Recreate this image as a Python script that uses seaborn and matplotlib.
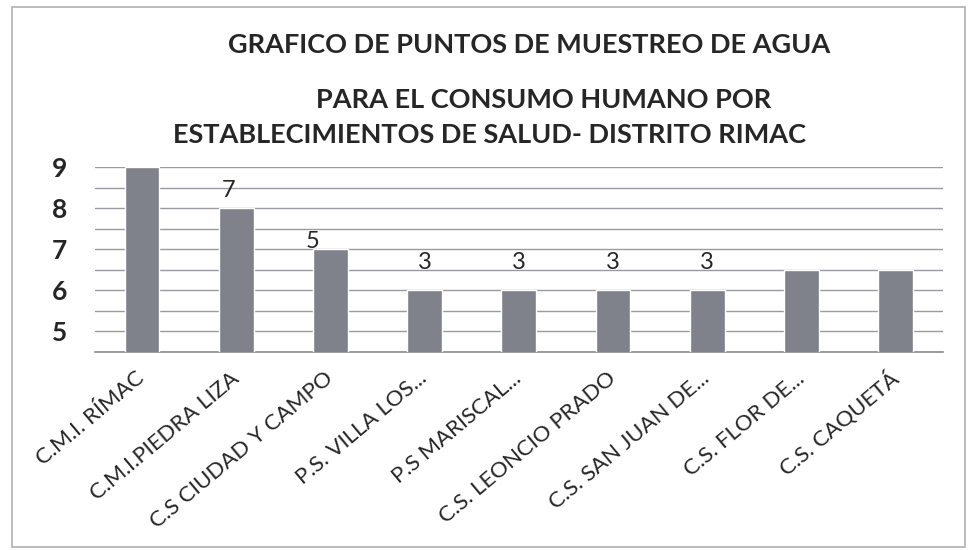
import pandas as pd
import seaborn as sns
import matplotlib.pyplot as plt
from matplotlib.patches import Rectangle
from matplotlib.ticker import MultipleLocator, FixedLocator

# --- data ---
centros = ['C.M.I. RÍMAC', 'C.M.I.PIEDRA LIZA', 'C.S CIUDAD Y CAMPO', 'P.S. VILLA LOS...',
           'P.S MARISCAL...', 'C.S. LEONCIO PRADO', 'C.S. SAN JUAN DE...', 'C.S. FLOR DE...',
           'C.S. CAQUETÁ']
valores = [9, 8, 7, 6, 6, 6, 6, 6.5, 6.5]
etiquetas = ['', '7', '5', '3', '3', '3', '3', '', '']
yticks = [5, 6, 7, 8, 9]

df = pd.DataFrame({'centro': centros, 'valor': valores})

sns.set_style('white')
plt.rcParams['font.family'] = ['Lato', 'DejaVu Sans']

fig = plt.figure(figsize=(9.68, 5.5), dpi=100)
ax = fig.add_axes([0.098, 0.36, 0.876, 0.336])

sns.barplot(data=df, x='centro', y='valor', color='#7f818b', saturation=1,
            width=0.37, ax=ax, zorder=3)

ax.set_ylim(4.5, 9)
ax.yaxis.set_major_locator(FixedLocator(yticks))
ax.yaxis.set_minor_locator(MultipleLocator(0.5))
ax.grid(which='both', axis='y', color='#9a9aa0', lw=1, zorder=0)
ax.set_axisbelow(True)
ax.set_xlim(-0.5, len(centros) - 0.5)
ax.set_xlabel('')
ax.set_ylabel('')

for s in ['left', 'right', 'top']:
    ax.spines[s].set_visible(False)
ax.spines['bottom'].set_color('#8a8a90')
ax.spines['bottom'].set_linewidth(1.2)

ax.tick_params(axis='y', which='both', length=0, pad=20, labelsize=19)
for t in ax.get_yticklabels():
    t.set_fontweight('bold')

# tick marks between categories
ax.xaxis.set_minor_locator(FixedLocator([i - 0.5 for i in range(len(centros) + 1)]))
ax.tick_params(axis='x', which='minor', length=6, color='#8a8a90', direction='out')
ax.tick_params(axis='x', which='major', length=0, pad=17)
ax.set_xticks(range(len(centros)))
ax.set_xticklabels(centros, rotation=40, ha='right', va='center',
                   rotation_mode='anchor', fontsize=16)

# data labels (placed as in the original, a bit irregular)
dx = [0, -0.08, -0.19, 0, 0, 0, 0, 0, 0]
dy = [0, 0.18, -0.07, 0.42, 0.42, 0.42, 0.42, 0, 0]
for i, (v, lab) in enumerate(zip(valores, etiquetas)):
    if lab:
        ax.text(i + dx[i], v + dy[i], lab, ha='center', va='bottom', fontsize=17)

# titles
fig.text(0.547, 0.918, 'GRAFICO DE PUNTOS DE MUESTREO DE AGUA', ha='center', va='center',
         fontsize=19.5, fontweight='bold')
fig.text(0.562, 0.818, 'PARA EL CONSUMO HUMANO POR', ha='center', va='center',
         fontsize=19.5, fontweight='bold')
fig.text(0.506, 0.754, 'ESTABLECIMIENTOS DE SALUD- DISTRITO RIMAC', ha='center', va='center',
         fontsize=19.5, fontweight='bold')

# outer chart border
fig.patches.append(Rectangle((0.012, 0.006), 0.985, 0.982, transform=fig.transFigure,
                             fill=False, edgecolor='#b0b0b4', lw=1.2))

fig.savefig('out.png', dpi=100)
